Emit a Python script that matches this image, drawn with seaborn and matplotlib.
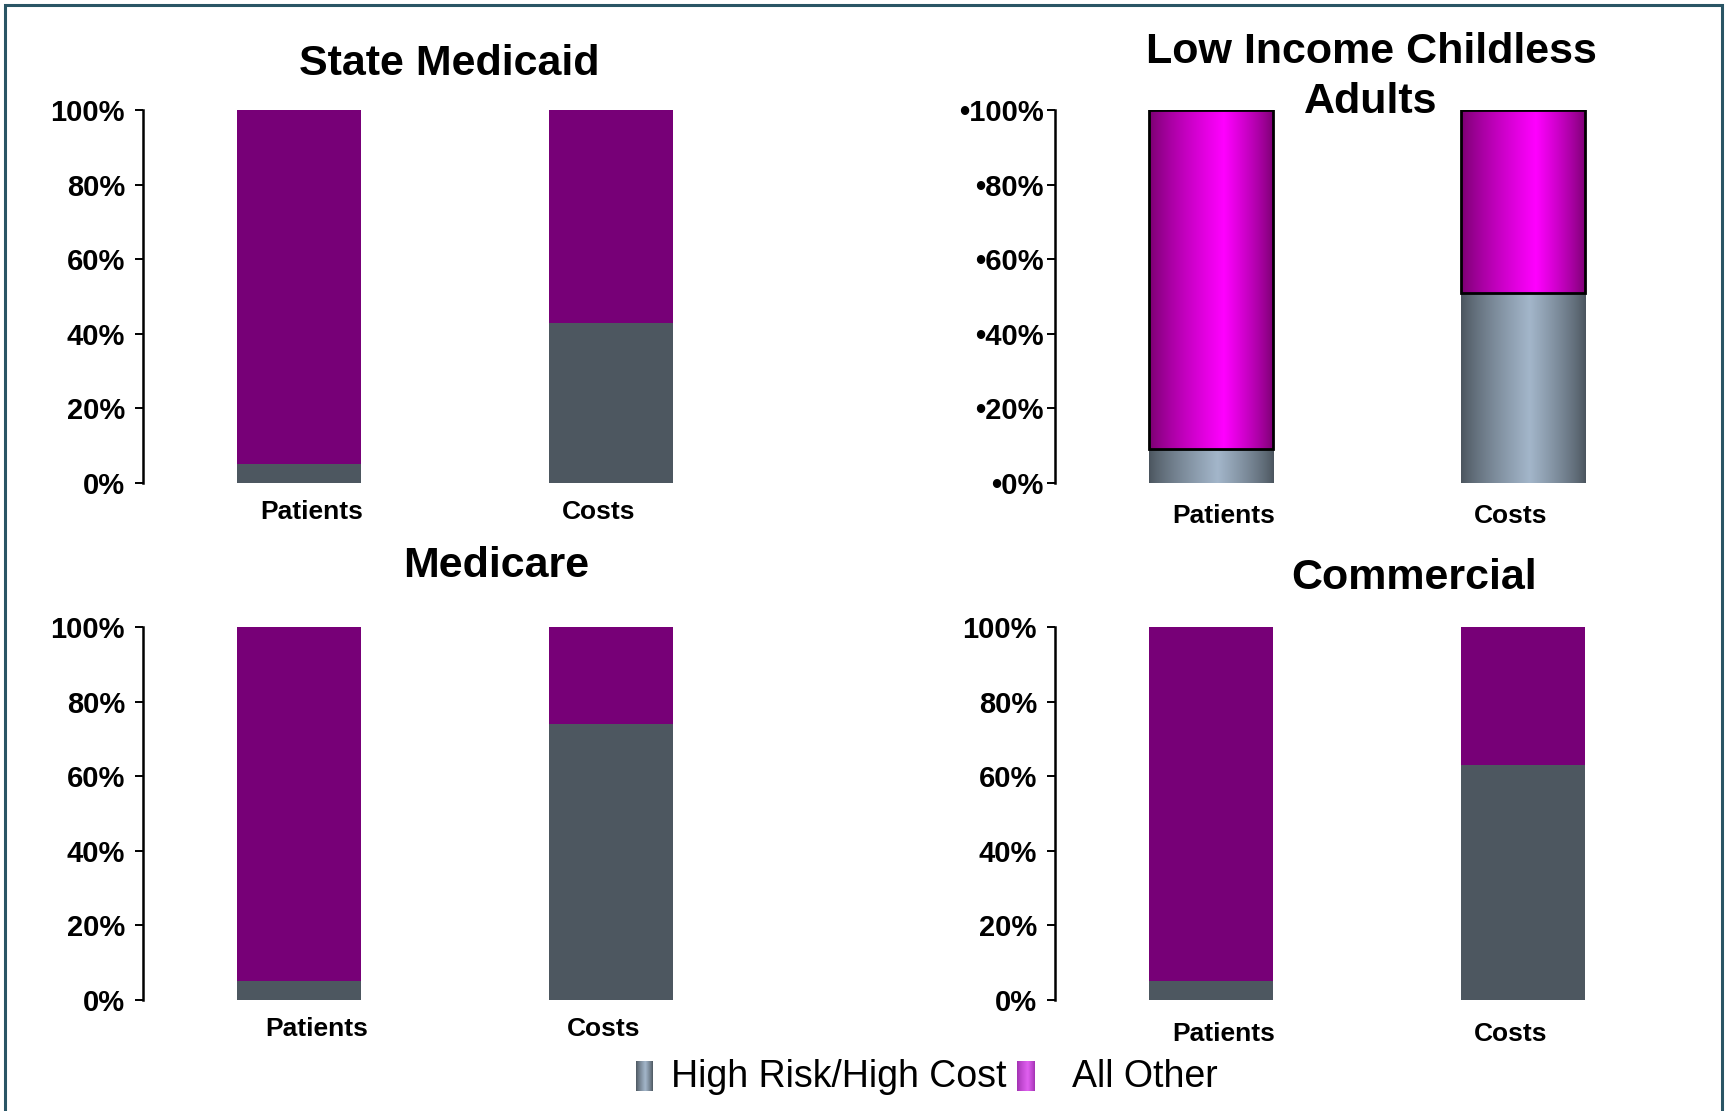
import numpy as np
import pandas as pd
import matplotlib
matplotlib.use("Agg")
import matplotlib.pyplot as plt
import seaborn as sns

# ---- data -------------------------------------------------------------
categories = ["Patients", "Costs"]
panel_titles = ["State Medicaid", "Low Income Childless\nAdults", "Medicare", "Commercial"]

medicaid_high_risk = [5, 43]
medicaid_all_other = [95, 57]
childless_high_risk = [9, 51]
childless_all_other = [91, 49]
medicare_high_risk = [5, 74]
medicare_all_other = [95, 26]
commercial_high_risk = [5, 63]
commercial_all_other = [95, 37]

y_ticks = [0, 20, 40, 60, 80, 100]
legend_labels = ["High Risk/High Cost", "All Other"]

# ---- style ------------------------------------------------------------
sns.set_style("white")
plt.rcParams["font.family"] = ["Liberation Sans", "DejaVu Sans"]
plt.rcParams["text.color"] = "black"
plt.rcParams["xtick.color"] = "black"
plt.rcParams["ytick.color"] = "black"
plt.rcParams["axes.labelcolor"] = "black"

GRAY = "#4D5760"
PURPLE = "#770077"
BORDER = "#2A5565"


def gradient_strip(edge, mid, peak=0.55, n=256):
    """Horizontal cylinder-like shading: dark at both edges, bright near peak."""
    t = np.linspace(0, 1, n)
    w = np.where(t < peak, t / peak, (1 - t) / (1 - peak))
    w = np.clip(w, 0, 1) ** 0.8
    edge = np.array(matplotlib.colors.to_rgb(edge))
    mid = np.array(matplotlib.colors.to_rgb(mid))
    rgb = edge[None, :] * (1 - w[:, None]) + mid[None, :] * w[:, None]
    return rgb[None, :, :]


GRAY_GRAD = gradient_strip("#4A545D", "#A3B6CA")
MAGENTA_GRAD = gradient_strip("#78006E", "#FF00FF", peak=0.6)
LEGEND_MAGENTA = gradient_strip("#A030B0", "#E060F0", peak=0.6)


def draw_panel(ax, high_risk, all_other, shaded=False, bullet=False,
               xpad=10, label_shift=(0.0, 0.0)):
    df = pd.DataFrame({"category": categories,
                       "high_risk": high_risk,
                       "all_other": all_other})
    df["stack_top"] = df["high_risk"] + df["all_other"]

    sns.barplot(data=df, x="category", y="stack_top", color=PURPLE, width=0.4,
                saturation=1, errorbar=None, linewidth=0, ax=ax)
    sns.barplot(data=df, x="category", y="high_risk", color=GRAY, width=0.4,
                saturation=1, errorbar=None, linewidth=0, ax=ax)

    n = len(categories)
    upper = ax.patches[:n]
    lower = ax.patches[n:2 * n]
    # turn the full-height bars into the upper stacked segment
    for p, hr, ot in zip(upper, df["high_risk"], df["all_other"]):
        p.set_y(hr)
        p.set_height(ot)

    if shaded:
        for patches, grad, outline in ((lower, GRAY_GRAD, False), (upper, MAGENTA_GRAD, True)):
            for p in patches:
                x0, y0 = p.get_x(), p.get_y()
                im = ax.imshow(grad, extent=(x0, x0 + p.get_width(), y0, y0 + p.get_height()),
                               aspect="auto", interpolation="bilinear", zorder=2.5)
                im.set_clip_path(p)
                if outline:
                    p.set_facecolor("none")
                    p.set_edgecolor("black")
                    p.set_linewidth(2.0)
                    p.set_zorder(3)

    ax.set_xlim(-0.5, 1.5)
    ax.set_ylim(0, 100)
    ax.set_xlabel("")
    ax.set_ylabel("")
    prefix = "\u2022" if bullet else ""
    ax.set_yticks(y_ticks, [f"{prefix}{v}%" for v in y_ticks],
                  fontsize=21, fontweight="bold")
    # category names sit slightly off the bar centres
    ax.set_xticks([i + d for i, d in zip(range(n), label_shift)], categories,
                  fontsize=19, fontweight="bold")
    ax.tick_params(axis="y", direction="out", length=6, width=1.4, color="black",
                   pad=2 if bullet else 7, left=True)
    ax.tick_params(axis="x", length=0, pad=xpad)
    for side in ("top", "right", "bottom"):
        ax.spines[side].set_visible(False)
    ax.spines["left"].set_color("black")
    ax.spines["left"].set_linewidth(1.8)
    ax.set_facecolor("none")


W, H = 1729, 1111
fig = plt.figure(figsize=(W / 100, H / 100), dpi=100)


def px_axes(left, top, right, bottom):
    return fig.add_axes([left / W, 1 - bottom / H, (right - left) / W, (bottom - top) / H])


ax_tl = px_axes(143, 110, 767, 483)
ax_tr = px_axes(1055, 110, 1679, 483)
ax_bl = px_axes(143, 627, 767, 1000)
ax_br = px_axes(1055, 627, 1679, 1000)

draw_panel(ax_tl, medicaid_high_risk, medicaid_all_other, xpad=12,
           label_shift=(0.04, -0.04))
draw_panel(ax_tr, childless_high_risk, childless_all_other, shaded=True, bullet=True,
           xpad=15, label_shift=(0.04, -0.04))
draw_panel(ax_bl, medicare_high_risk, medicare_all_other, xpad=12,
           label_shift=(0.056, -0.025))
draw_panel(ax_br, commercial_high_risk, commercial_all_other, xpad=16,
           label_shift=(0.04, -0.04))

# panel titles
title_pos = [(449, 64), (1371, 77), (496, 566), (1414, 578)]
for text, (x, y) in zip(panel_titles, title_pos):
    fig.text(x / W, 1 - y / H, text, ha="center", va="center",
             fontsize=31, fontweight="bold", linespacing=1.3)

# legend row along the bottom, with shaded swatches
leg = fig.add_axes([0, 0, 1, 1], zorder=5)
leg.set_xlim(0, W)
leg.set_ylim(H, 0)
leg.axis("off")
leg.imshow(GRAY_GRAD, extent=(636, 653, 1091, 1061), aspect="auto", interpolation="bilinear")
leg.imshow(LEGEND_MAGENTA, extent=(1017, 1035, 1091, 1061), aspect="auto", interpolation="bilinear")
leg.set_xlim(0, W)
leg.set_ylim(H, 0)
leg.text(671, 1077, legend_labels[0], fontsize=27, va="center", ha="left")
leg.text(1072, 1077, legend_labels[1], fontsize=27, va="center", ha="left")

# thin frame around the slide
leg.plot([5, 5, 1722, 1722], [H + 5, 5, 5, H + 5], color=BORDER, lw=2.2,
         solid_joinstyle="miter", clip_on=False)

fig.savefig("out.png", dpi=100, facecolor="white")
